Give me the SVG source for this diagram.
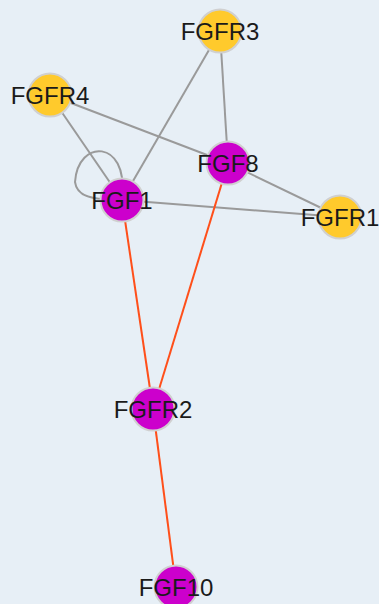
<svg xmlns="http://www.w3.org/2000/svg" width="379" height="604" viewBox="0 0 379 604">
<style>
.e{fill:none;stroke-width:2}
.g{stroke:#9a9a9a}
.o{stroke:#ff4f1a}
.n{stroke:#d0d0d0;stroke-width:2}
.y{fill:#ffca2c}
.p{fill:#cc00cc}
text{font-family:"Liberation Sans",Arial,sans-serif;font-size:24px;fill:#1a1a1a;text-anchor:middle;dominant-baseline:central}
</style>
<rect width="379" height="604" fill="#e7eff6"/>
<g id="edges">
<line class="e g" x1="220" y1="31" x2="122" y2="200"/>
<line class="e g" x1="220" y1="31" x2="228" y2="163"/>
<line class="e g" x1="50" y1="95" x2="122" y2="200"/>
<line class="e g" x1="50" y1="95" x2="228" y2="163"/>
<line class="e g" x1="228" y1="163" x2="340" y2="217"/>
<line class="e g" x1="122" y1="200" x2="340" y2="217"/>
<path class="e g" d="M122,195 C128,140 78,138 75,182 C77,197 95,199 105,199"/>
<line class="e o" x1="122" y1="200" x2="153" y2="409"/>
<line class="e o" x1="228" y1="163" x2="153" y2="409"/>
<line class="e o" x1="153" y1="409" x2="176" y2="587"/>
</g>
<g id="FGFR3"><circle class="n y" cx="220" cy="31" r="21.5"/><text x="220" y="31">FGFR3</text></g>
<g id="FGFR4"><circle class="n y" cx="50" cy="95" r="21.5"/><text x="50" y="95">FGFR4</text></g>
<g id="FGF8"><circle class="n p" cx="228" cy="163" r="21.5"/><text x="228" y="163">FGF8</text></g>
<g id="FGF1"><circle class="n p" cx="122" cy="200" r="21.5"/><text x="122" y="200">FGF1</text></g>
<g id="FGFR1"><circle class="n y" cx="340" cy="217" r="21.5"/><text x="340" y="217">FGFR1</text></g>
<g id="FGFR2"><circle class="n p" cx="153" cy="409" r="21.5"/><text x="153" y="409">FGFR2</text></g>
<g id="FGF10"><circle class="n p" cx="176" cy="587" r="21.5"/><text x="176" y="587">FGF10</text></g>
</svg>
